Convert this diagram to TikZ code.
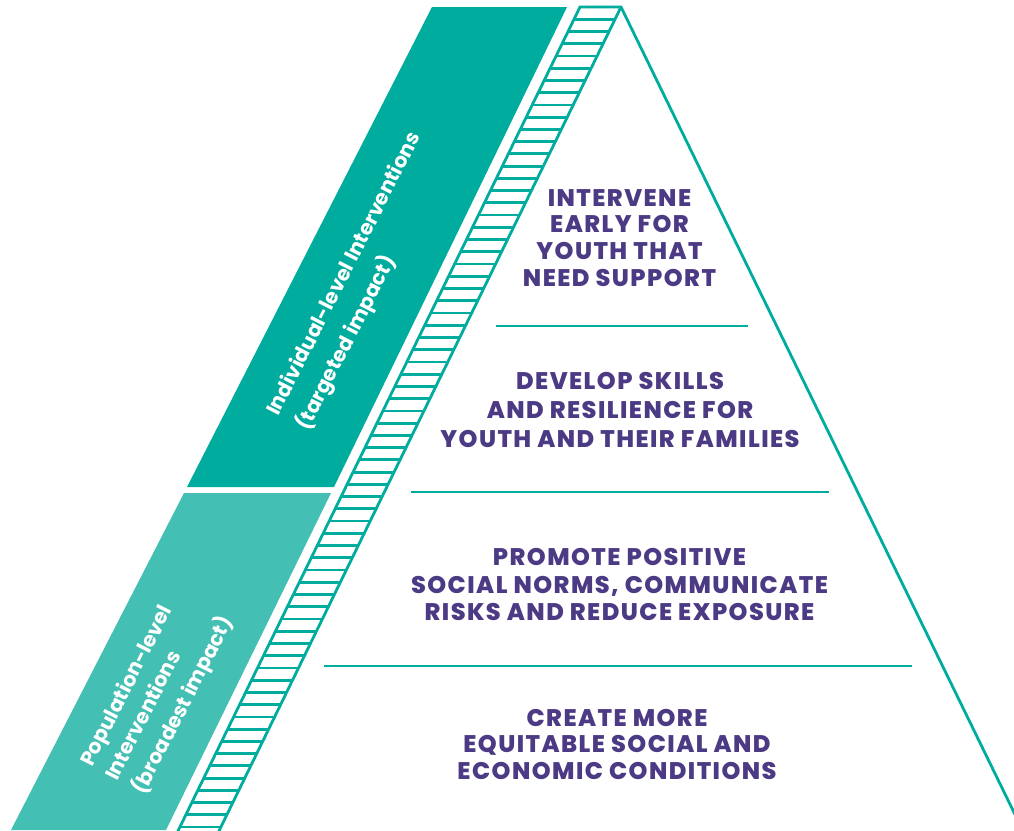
\documentclass[tikz,border=0pt]{standalone}
\usepackage{fontspec}
\setmainfont{Poppins}
\newfontfamily\heavyfont{Poppins ExtraBold}[LetterSpace=6]
\definecolor{darkteal}{HTML}{00AC9D}
\definecolor{lightteal}{HTML}{43BFB3}
\definecolor{tealline}{HTML}{00AC9D}
\definecolor{purpletext}{HTML}{4C3A84}
\tikzset{
  tealrule/.style={draw=tealline, line width=2.8pt},
  purpleline/.style={text=purpletext, font=\heavyfont\fontsize{24}{26}\selectfont, inner sep=0pt, anchor=base},
  whiteline/.style={text=white, font=\bfseries\fontsize{20.5}{24}\selectfont, inner sep=0pt, anchor=base west, rotate=63},
}
\begin{document}
\begin{tikzpicture}[x=1pt,y=-1pt]
\useasboundingbox (0,0) rectangle (1014,830);
\clip (0,0) rectangle (1014,830);
% side bands
\fill[darkteal] (432,7) -- (567,7) -- (334,487) -- (187,487) -- cycle;
\fill[lightteal] (184,493) -- (331,493) -- (166,830) -- (11,830) -- cycle;
% ladder
\coordinate (apex) at (621,7);
\coordinate (ltop) at (580,7);
\coordinate (lbot) at (176,835);
\coordinate (rbot) at (217,835);
\coordinate (pright) at (1025,835);
\draw[tealrule] (lbot) -- (ltop) -- (apex) -- (pright);
\draw[tealrule] (apex) -- (rbot);
\foreach \k in {1,...,68}{
  \pgfmathsetmacro{\yy}{7+12.24*\k}
  \pgfmathsetmacro{\xl}{580-0.488*(\yy-7)}
  \pgfmathsetmacro{\xr}{621-0.488*(\yy-7)}
  \draw[tealrule] (\xl,\yy) -- (\xr,\yy);
}
% dividers
\coordinate (d1l) at (496,326); \coordinate (d1r) at (748,326);
\coordinate (d2l) at (411,492); \coordinate (d2r) at (829,492);
\coordinate (d3l) at (324,666); \coordinate (d3r) at (912,666);
\draw[tealrule] (d1l) -- (d1r);
\draw[tealrule] (d2l) -- (d2r);
\draw[tealrule] (d3l) -- (d3r);
% tier texts
\node[purpleline] (a1) at (619.5,206) {INTERVENE};
\node[purpleline] (a2) at (619.5,232.5) {EARLY FOR};
\node[purpleline] (a3) at (619.5,259) {YOUTH THAT};
\node[purpleline] (a4) at (619.5,286) {NEED SUPPORT};
\node[purpleline] (b1) at (620,389.5) {DEVELOP SKILLS};
\node[purpleline] (b2) at (620,418.3) {AND RESILIENCE FOR};
\node[purpleline] (b3) at (620,447) {YOUTH AND THEIR FAMILIES};
\node[purpleline] (c1) at (619.5,565) {PROMOTE POSITIVE};
\node[purpleline] (c2) at (619.5,593.3) {SOCIAL NORMS, COMMUNICATE};
\node[purpleline] (c3) at (619.5,620.7) {RISKS AND REDUCE EXPOSURE};
\node[purpleline] (e1) at (617,726) {CREATE MORE};
\node[purpleline] (e2) at (617,752.7) {EQUITABLE SOCIAL AND};
\node[purpleline] (e3) at (617,779.3) {ECONOMIC CONDITIONS};
% band texts
\node[whiteline] (i1) at (278,417) {Individual-level Interventions};
\node[whiteline] (i2) at (308,432) {(targeted impact)};
\node[whiteline] (p1) at (92,768) {Population-level};
\node[whiteline] (p2) at (117,782) {Interventions};
\node[whiteline] (p3) at (144,796) {(broadest impact)};
\end{tikzpicture}
\end{document}
